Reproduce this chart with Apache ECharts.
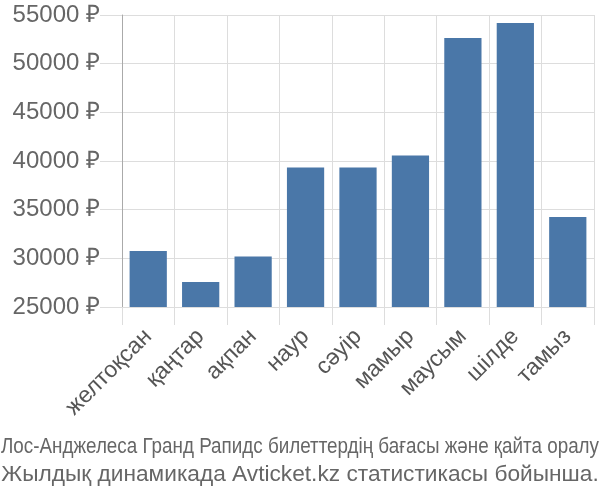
<!DOCTYPE html>
<html>
<head>
<meta charset="utf-8">
<script src="https://cdn.jsdelivr.net/npm/echarts@6/dist/echarts.min.js"></script>
<style>html,body{margin:0;padding:0;background:#fff}#c{width:600px;height:500px}</style>
</head>
<body>
<div id="c"></div>
<script>
var categories = ['желтоқсан','қаңтар','ақпан','наур','сәуір','мамыр','маусым','шілде','тамыз'];
var prices = [30750, 27560, 30200, 39330, 39330, 40560, 52640, 54170, 34240];
var yMin = 25000, yMax = 55000, yStep = 5000;
var captionLine1 = 'Лос-Анджелеса Гранд Рапидс билеттердің бағасы және қайта оралу';
var captionLine2 = 'Жылдық динамикада Avticket.kz статистикасы бойынша.';

var FONT = 'Liberation Sans, Arial, sans-serif';
function measure(text, size) {
  var ctx = document.createElement('canvas').getContext('2d');
  ctx.font = size + 'px ' + FONT;
  return ctx.measureText(text).width;
}
var cap1Size = 22.5;
var cap1Scale = 598 / measure(captionLine1, cap1Size);

var chart = echarts.init(document.getElementById('c'), null, {renderer: 'canvas'});
chart.setOption({
  animation: false,
  grid: {left: 122, right: 6, top: 15, bottom: 193, containLabel: false},
  xAxis: {
    type: 'category',
    data: categories,
    boundaryGap: true,
    axisLine: {show: false},
    axisTick: {show: true, length: 18, lineStyle: {color: '#ddd'}},
    splitLine: {show: true, lineStyle: {color: '#ddd'}},
    axisLabel: {rotate: 45, fontSize: 23, color: '#555', margin: 26, fontFamily: FONT, interval: 0}
  },
  yAxis: {
    type: 'value',
    min: yMin, max: yMax, interval: yStep,
    axisLine: {show: true, lineStyle: {color: '#aaa'}},
    axisTick: {show: true, length: 22, lineStyle: {color: '#ddd'}},
    splitLine: {show: true, lineStyle: {color: '#ddd'}},
    axisLabel: {formatter: function (v) { return v + ' ₽'; }, fontSize: 24, color: '#666', margin: 22, fontFamily: FONT}
  },
  series: [{
    type: 'bar',
    data: prices,
    barCategoryGap: '29%',
    itemStyle: {color: '#4a77a8'}
  }],
  graphic: [
    {type: 'text', x: 300, y: 447, scaleX: cap1Scale, style: {text: captionLine1, fontSize: cap1Size, fill: '#666', fontFamily: FONT, textAlign: 'center', textVerticalAlign: 'middle', verticalAlign: 'middle'}},
    {type: 'text', x: 300, y: 475, style: {text: captionLine2, fontSize: 22.7, fill: '#666', fontFamily: FONT, textAlign: 'center', textVerticalAlign: 'middle', verticalAlign: 'middle'}}
  ]
});
var p0 = chart.convertToPixel({gridIndex: 0}, [0, yMin]);
var p1 = chart.convertToPixel({gridIndex: 0}, [1, yMin]);
var axisX = Math.round(p0[0] - (p1[0] - p0[0]) / 2) + 0.5;
chart.setOption({graphic: [{}, {}, {type: 'line', shape: {x1: axisX, y1: p0[1], x2: axisX, y2: p0[1] + 18}, style: {stroke: '#aaa', lineWidth: 1}}]});
</script>
</body>
</html>
